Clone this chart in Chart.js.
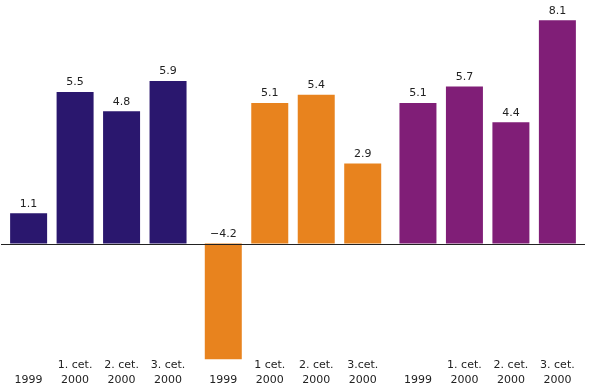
<!DOCTYPE html>
<html lang="cs">
<head>
<meta charset="UTF-8">
<title>Bar chart</title>
<script src="https://cdn.jsdelivr.net/npm/chart.js"></script>
<style>
    body { margin: 0; background: #fff; }
    canvas { display: block; }
</style>
</head>
<body>
<canvas id="chart" width="600" height="392"></canvas>
<script>
    // three groups of four periods
    const groupA = [1.1, 5.5, 4.8, 5.9];
    const groupB = [-4.2, 5.1, 5.4, 2.9];
    const groupC = [5.1, 5.7, 4.4, 8.1];

    const groupColors = ['#2A176E', '#E8831E', '#801E77'];

    // bar labels under the axis, two lines each
    const labelsA = [['', '1999'], ['1. cet.', '2000'], ['2. cet.', '2000'], ['3. cet.', '2000']];
    const labelsB = [['', '1999'], ['1 cet.', '2000'], ['2. cet.', '2000'], ['3.cet.', '2000']];
    const labelsC = [['', '1999'], ['1. cet.', '2000'], ['2. cet.', '2000'], ['3. cet.', '2000']];

    const groups = ['A', 'B', 'C'];
    const groupLabels = [labelsA, labelsB, labelsC];

    const datasets = [0, 1, 2, 3].map(function (i) {
        return {
            data: [groupA[i], groupB[i], groupC[i]],
            backgroundColor: groupColors,
            borderWidth: 0,
            categoryPercentage: 0.955,
            barPercentage: 0.796
        };
    });

    const labelPlugin = {
        id: 'labels',
        afterDatasetsDraw(chart) {
            const ctx = chart.ctx;
            const area = chart.chartArea;
            const zeroY = chart.scales.y.getPixelForValue(0);

            // zero line
            ctx.save();
            ctx.strokeStyle = '#222';
            ctx.lineWidth = 1;
            ctx.beginPath();
            ctx.moveTo(area.left, Math.round(zeroY) + 0.5);
            ctx.lineTo(area.right, Math.round(zeroY) + 0.5);
            ctx.stroke();

            ctx.fillStyle = '#222';
            ctx.font = '11px "DejaVu Sans"';
            ctx.textAlign = 'center';

            chart.data.datasets.forEach(function (ds, i) {
                const meta = chart.getDatasetMeta(i);
                meta.data.forEach(function (bar, g) {
                    const v = ds.data[g];
                    const top = Math.min(bar.y, bar.base);
                    ctx.textBaseline = 'bottom';
                    ctx.fillText(v.toFixed(1).replace('-', '\u2212'), bar.x, top - 4);

                    const lines = groupLabels[g][i];
                    ctx.textBaseline = 'middle';
                    ctx.fillText(lines[0], bar.x, 365);
                    ctx.fillText(lines[1], bar.x, 380);
                });
            });
            ctx.restore();
        }
    };

    new Chart(document.getElementById('chart'), {
        type: 'bar',
        data: {
            labels: groups,
            datasets: datasets
        },
        options: {
            responsive: false,
            animation: false,
            layout: { padding: { left: 1, right: 15, top: 1, bottom: 30 } },
            plugins: {
                legend: { display: false },
                tooltip: { enabled: false }
            },
            scales: {
                x: { display: false },
                y: { display: false, min: -4.3, max: 8.8 }
            }
        },
        plugins: [labelPlugin]
    });
</script>
</body>
</html>
